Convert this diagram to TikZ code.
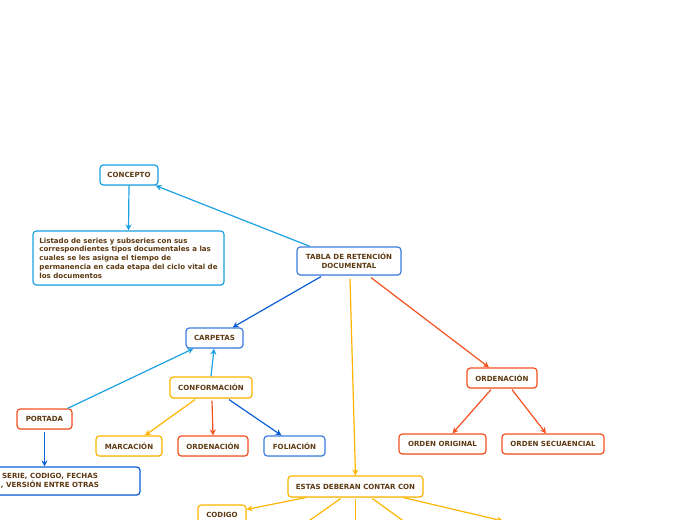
\documentclass[tikz,border=0pt]{standalone}
\usepackage{fontspec}
\setmainfont{DejaVu Sans}
\usetikzlibrary{arrows.meta,calc,shadows}
\definecolor{lblue}{HTML}{1BA1E2}
\definecolor{dblue}{HTML}{0B5ED7}
\definecolor{bblue}{HTML}{3C7DDD}
\definecolor{yel}{HTML}{FFB400}
\definecolor{ora}{HTML}{F4511E}
\definecolor{txt}{HTML}{5E3A12}
\tikzset{
  box/.style={draw=#1, line width=0.9pt, rounded corners=2.5pt, fill=white,
    text=txt, font=\fontsize{5.3}{6.6}\selectfont\bfseries, align=center, inner sep=1pt,
    drop shadow={shadow xshift=0.3pt, shadow yshift=-0.6pt, opacity=0.2}},
  sz/.style 2 args={minimum width=#1*0.75pt, minimum height=#2*0.75pt},
  link/.style={draw=#1, line width=0.9pt, -{Stealth[length=4.5pt,width=4.5pt]}},
  plain/.style={draw=#1, line width=0.9pt}
}
\begin{document}
\begin{tikzpicture}[x=0.75pt,y=-0.75pt]
\useasboundingbox (0,0) rectangle (696,520);
\clip (0,0) rectangle (696,520);
\node[box=lblue, sz={58}{20}] (concepto) at (129,175) {CONCEPTO};
\node[box=lblue, sz={191}{54}, align=left] (listado) at (128.5,258) {Listado de series y subseries con sus\\correspondientes tipos documentales a las\\cuales se les asigna el tiempo de\\permanencia en cada etapa del ciclo vital de\\los documentos};
\node[box=bblue, sz={104}{28}] (tabla) at (349,261) {TABLA DE RETENCIÓN\\DOCUMENTAL};
\node[box=bblue, sz={57}{20}] (carpetas) at (214.5,338) {CARPETAS};
\node[box=yel, sz={82}{21}] (conf) at (211,387.5) {CONFORMACIÓN};
\node[box=ora, sz={55}{20}] (portada) at (44.5,419) {PORTADA};
\node[box=dblue, sz={180}{28}] (serie) at (50,481) {SERIE, CODIGO, FECHAS\\, VERSIÓN ENTRE OTRAS};
\node[box=yel, sz={66}{20}] (marcacion) at (129,446) {MARCACIÓN};
\node[box=ora, sz={70}{20}] (ordenL) at (213,446) {ORDENACIÓN};
\node[box=bblue, sz={61}{20}] (foliacion) at (294.5,446) {FOLIACIÓN};
\node[box=ora, sz={70}{20}] (ordenR) at (502,378) {ORDENACIÓN};
\node[box=ora, sz={87}{20}] (original) at (442.5,444) {ORDEN ORIGINAL};
\node[box=ora, sz={102}{20}] (secuencial) at (553,444) {ORDEN SECUAENCIAL};
\node[box=yel, sz={135}{21}] (estas) at (355.5,486.5) {ESTAS DEBERAN CONTAR CON};
\node[box=yel, sz={48}{20}] (codigo) at (222,515) {CODIGO};
\coordinate (c1) at (296,530);
\coordinate (c2) at (355.5,530);
\coordinate (c3) at (416,530);
\coordinate (c4) at (503,521);

\draw[link=lblue] ($(tabla.north)+(-39,0)$) -- ($(concepto.south east)+(-3,0)$);
\draw[link=lblue] (concepto.south) -- (listado.north);
\draw[link=dblue] ($(tabla.south)+(-28,1)$) -- ($(carpetas.north east)+(-11,0)$);
\draw[link=yel] ($(tabla.south)+(1,3)$) -- (estas.north);
\draw[link=ora] ($(tabla.south)+(22,2)$) -- ($(ordenR.north)+(-13,0)$);
\draw[link=lblue] (conf.north) -- ($(carpetas.south)+(-0.5,0)$);
\draw[link=lblue] ($(portada.north east)+(-5,0)$) -- ($(carpetas.south west)+(8,0)$);
\draw[link=dblue] ($(portada.south)+(0,2)$) -- (portada.south |- serie.north);
\draw[link=yel] ($(conf.south)+(-16,1)$) -- ($(marcacion.north)+(16,0)$);
\draw[link=ora] ($(conf.south)+(1,2)$) -- (ordenL.north);
\draw[link=dblue] ($(conf.south)+(18,1)$) -- ($(foliacion.north)+(-13,0)$);
\draw[link=ora] ($(ordenR.south)+(-11,1)$) -- ($(original.north)+(10,0)$);
\draw[link=ora] ($(ordenR.south)+(10,1)$) -- ($(secuencial.north)+(-7,0)$);
\draw[link=yel] ($(estas.south)+(-50,0)$) -- ($(codigo.north east)+(0,5)$);
\draw[plain=yel] ($(estas.south)+(-15,1)$) -- (c1);
\draw[plain=yel] ($(estas.south)+(0,1)$) -- (c2);
\draw[plain=yel] ($(estas.south)+(17,1)$) -- (c3);
\draw[link=yel] ($(estas.south)+(48,0)$) -- (c4);
\end{tikzpicture}
\end{document}
